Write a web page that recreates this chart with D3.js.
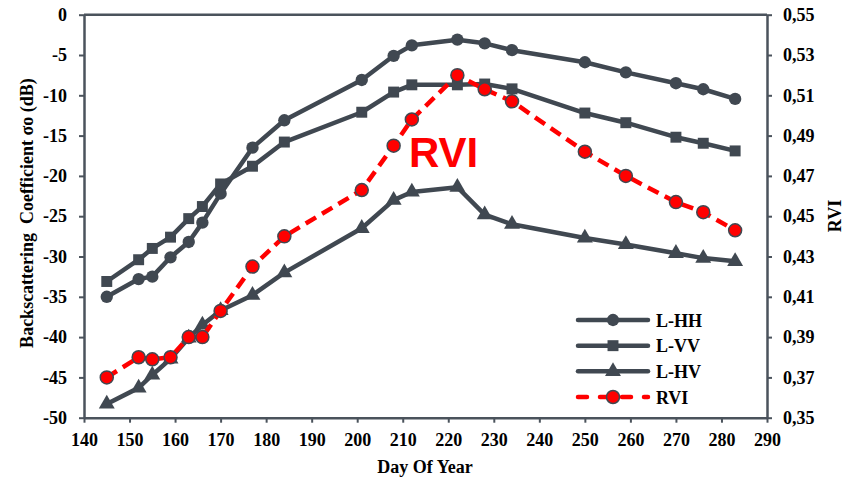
<!DOCTYPE html>
<html>
<head>
<meta charset="utf-8">
<script src="https://cdn.jsdelivr.net/npm/d3@7"></script>
<style>
  body { margin: 0; background: #fff; }
  svg { display: block; }
  .tick text, .title, .legend text { font-family: "Liberation Serif", "Times New Roman", serif; font-weight: bold; font-size: 18px; fill: #000; }
</style>
</head>
<body>
<svg id="chart" width="852" height="479"></svg>
<script>
// day of year
const days = [145, 152, 155, 159, 163, 166, 170, 177, 184, 201, 208, 212, 222, 228, 234, 250, 259, 270, 276, 283];
// backscattering (dB)
const lhh = [-35.0, -32.8, -32.5, -30.1, -28.2, -25.8, -22.2, -16.5, -13.1, -8.1, -5.1, -3.8, -3.1, -3.55, -4.4, -5.9, -7.15, -8.5, -9.25, -10.45];
const lvv = [-33.1, -30.4, -29.0, -27.6, -25.3, -23.8, -21.0, -18.8, -15.8, -12.1, -9.6, -8.7, -8.7, -8.6, -9.2, -12.2, -13.4, -15.2, -15.95, -16.9];
const lhv = [-48.3, -46.3, -44.7, -42.7, -40.1, -38.5, -36.7, -34.8, -32.0, -26.5, -23.0, -22.0, -21.4, -24.8, -26.0, -27.7, -28.5, -29.6, -30.2, -30.6];
// radar vegetation index
const rvi = [0.370, 0.380, 0.379, 0.380, 0.390, 0.390, 0.403, 0.425, 0.440, 0.463, 0.485, 0.498, 0.520, 0.513, 0.507, 0.482, 0.470, 0.457, 0.452, 0.443];

const xTicks = [140, 150, 160, 170, 180, 190, 200, 210, 220, 230, 240, 250, 260, 270, 280, 290];
const yTicks = [0, -5, -10, -15, -20, -25, -30, -35, -40, -45, -50];
const rTicks = ['0,55', '0,53', '0,51', '0,49', '0,47', '0,45', '0,43', '0,41', '0,39', '0,37', '0,35'];
const legendNames = ['L-HH', 'L-VV', 'L-HV', 'RVI'];

const grey = '#404851';
const axisGrey = '#4b535c';
const red = '#ff0000';

const plotLeft = 84, plotRight = 767, plotTop = 14.7, plotBottom = 417.7;

const svg = d3.select('#chart');

const x = d3.scaleLinear().domain([140, 290]).range([plotLeft, plotRight]);
const y = d3.scaleLinear().domain([-50, 0]).range([plotBottom, plotTop]);
const yR = d3.scaleLinear().domain([0.35, 0.55]).range([plotBottom, plotTop]);

// frame top line
svg.append('line')
  .attr('x1', plotLeft).attr('x2', plotRight)
  .attr('y1', plotTop).attr('y2', plotTop)
  .attr('stroke', axisGrey).attr('stroke-width', 2.5);

const styleAxis = (g) => {
  g.select('.domain').attr('stroke', axisGrey).attr('stroke-width', 2.5);
  g.selectAll('.tick line').attr('stroke', axisGrey).attr('stroke-width', 2);
  g.attr('font-family', null).attr('font-size', null);
};

svg.append('g')
  .attr('transform', `translate(0,${plotBottom})`)
  .call(d3.axisBottom(x).tickValues(xTicks).tickSize(5).tickSizeOuter(0).tickPadding(10.5).tickFormat((d) => String(d)))
  .call(styleAxis);

svg.append('g')
  .attr('transform', `translate(${plotLeft},0)`)
  .call(d3.axisLeft(y).tickValues(yTicks).tickSize(5).tickSizeOuter(0).tickPadding(12).tickFormat((d) => String(d)))
  .call(styleAxis);

svg.append('g')
  .attr('transform', `translate(${plotRight},0)`)
  .call(d3.axisRight(yR)
    .tickValues(rTicks.map((t) => +t.replace(',', '.')))
    .tickSize(5).tickSizeOuter(0).tickPadding(11)
    .tickFormat((d) => d.toFixed(2).replace('.', ',')))
  .call(styleAxis);

// axis titles
svg.append('text').attr('class', 'title')
  .attr('x', 425).attr('y', 473).attr('text-anchor', 'middle')
  .text('Day Of Year');
svg.append('text').attr('class', 'title')
  .attr('transform', 'translate(33,213) rotate(-90)').attr('text-anchor', 'middle')
  .text('Backscattering\u00a0\u00a0Coefficient σo (dB)');
svg.append('text').attr('class', 'title')
  .attr('transform', 'translate(841,216) rotate(-90)').attr('text-anchor', 'middle')
  .text('RVI');

const series = [
  { name: 'L-HH', values: lhh, symbol: d3.symbolCircle, size: 120 },
  { name: 'L-VV', values: lvv, symbol: d3.symbolSquare, size: 120 },
  { name: 'L-HV', values: lhv, symbol: d3.symbolTriangle, size: 110 },
];

series.forEach((s) => {
  const pts = days.map((d, i) => [d, s.values[i]]);
  const line = d3.line().x((p) => x(p[0])).y((p) => y(p[1]));
  svg.append('path').datum(pts)
    .attr('d', line).attr('fill', 'none')
    .attr('stroke', grey).attr('stroke-width', 4.5).attr('stroke-linejoin', 'round');
  svg.append('g').selectAll('path').data(pts).join('path')
    .attr('transform', (p) => `translate(${x(p[0])},${y(p[1])})`)
    .attr('d', d3.symbol().type(s.symbol).size(s.size))
    .attr('fill', grey);
});

// RVI on right axis
const rviPts = days.map((d, i) => [d, rvi[i]]);
svg.append('path').datum(rviPts)
  .attr('d', d3.line().x((p) => x(p[0])).y((p) => yR(p[1])))
  .attr('fill', 'none').attr('stroke', red).attr('stroke-width', 4.5)
  .attr('stroke-dasharray', '12,7');
svg.append('g').selectAll('circle').data(rviPts).join('circle')
  .attr('cx', (p) => x(p[0])).attr('cy', (p) => yR(p[1]))
  .attr('r', 6.5).attr('fill', red).attr('stroke', grey).attr('stroke-width', 1.5);

// big RVI label
svg.append('text')
  .attr('x', 409).attr('y', 167)
  .attr('font-family', '"Liberation Sans", Arial, sans-serif')
  .attr('font-weight', 'bold').attr('font-size', 42)
  .attr('fill', red).text('RVI');

// legend
const legend = svg.append('g').attr('class', 'legend');
const legendY = d3.scalePoint().domain(legendNames).range([320, 397]);
legendNames.forEach((name, i) => {
  const ly = legendY(name);
  const isRvi = name === 'RVI';
  legend.append('line')
    .attr('x1', 578).attr('x2', 648).attr('y1', ly).attr('y2', ly)
    .attr('stroke', isRvi ? red : grey).attr('stroke-width', 4.5)
    .attr('stroke-linecap', 'round')
    .attr('stroke-dasharray', isRvi ? '9,13' : null);
  if (isRvi) {
    legend.append('circle').attr('cx', 613).attr('cy', ly).attr('r', 6.5)
      .attr('fill', red).attr('stroke', grey).attr('stroke-width', 1.5);
  } else {
    legend.append('path')
      .attr('transform', `translate(613,${ly})`)
      .attr('d', d3.symbol().type(series[i].symbol).size(series[i].size))
      .attr('fill', grey);
  }
  legend.append('text').attr('x', 656).attr('y', ly + 6.5).text(name);
});
</script>
</body>
</html>
